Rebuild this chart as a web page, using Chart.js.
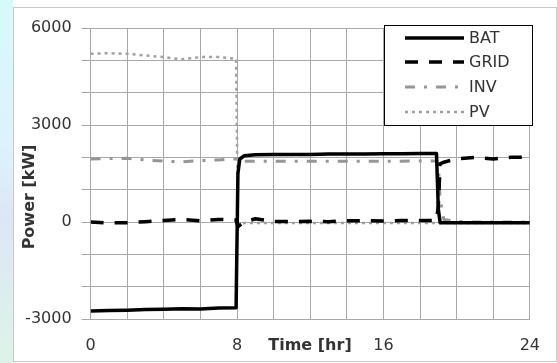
<!DOCTYPE html>
<html><head><meta charset="utf-8">
<script src="https://cdn.jsdelivr.net/npm/chart.js@4"></script>
<style>
html,body{margin:0;padding:0;width:557px;height:363px;overflow:hidden;background:#fff;}
#bg{position:absolute;left:0;top:0;width:13px;height:363px;background:linear-gradient(to bottom,#d6fafa 0%,#dcf3fb 40%,#dde6f6 60%,#dcf4e8 100%);}
#wrap{position:absolute;left:0;top:0;width:557px;height:363px;}
</style></head><body>
<div id="bg"></div>
<div id="wrap"><canvas id="c" width="557" height="363"></canvas></div>
<script>
const hours = [0,1,2,3,4,5,6,7,7.95,8.05,8.15,8.4,9,10,11,12,13,14,15,16,17,18,18.9,19.0,19.1,19.3,20,21,22,23,24];
const batValues  = [-2750,-2740,-2730,-2710,-2700,-2680,-2690,-2660,-2650,1500,1950,2050,2080,2090,2090,2090,2100,2100,2100,2110,2110,2120,2120,400,-20,-20,-20,-20,-20,-20,-20];
const gridValues = [0,-30,-20,10,50,80,40,80,60,-150,-100,0,100,20,10,20,10,40,40,30,50,50,50,500,1800,1850,1950,2000,1950,2000,2000];
const invValues  = [1950,1960,1970,1920,1880,1860,1900,1920,1950,1950,1900,1880,1880,1880,1880,1880,1880,1880,1880,1880,1880,1890,1890,1800,700,80,20,0,0,0,0];
const pvValues   = [5200,5220,5200,5150,5100,5030,5100,5100,5050,-20,-30,-30,-30,-30,-30,-30,-30,-30,-30,-30,-30,-30,-30,-30,-30,-30,-30,-30,-30,-30,-30];
const seriesNames = ['BAT','GRID','INV','PV'];
const xTickLabels = [0,8,16,24];
const yTickLabels = [-3000,0,3000,6000];
const xTitle = 'Time [hr]';
const yTitle = 'Power [kW]';

const FONT = 'DejaVu Sans';
const TXT = '#333333';
const pts = v => hours.map((h,i)=>({x:h,y:v[i]}));

const styles = [
  {borderColor:'#000000', borderWidth:3.5, borderDash:[]},
  {borderColor:'#000000', borderWidth:3.5, borderDash:[13,11]},
  {borderColor:'#969696', borderWidth:3, borderDash:[10,9,3,9]},
  {borderColor:'#a0a0a0', borderWidth:2.5, borderDash:[3,4]}
];
const vals = [batValues,gridValues,invValues,pvValues];

const decor = {
  id:'decor',
  beforeDraw(chart){
    const c = chart.ctx;
    c.save();
    c.strokeStyle = '#c8c8c8'; c.lineWidth = 1;
    c.strokeRect(13.5,7.5,543,354);
    c.restore();
  },
  afterDraw(chart){
    const c = chart.ctx;
    const xs = chart.scales.x, ys = chart.scales.y;
    c.save();
    c.fillStyle = TXT;
    c.font = 'bold 16px "'+FONT+'"';
    c.textAlign = 'center'; c.textBaseline = 'middle';
    c.fillText(xTitle, 310, 346);
    c.translate(30, 197); c.rotate(-Math.PI/2);
    c.fillText(yTitle, 0, 0);
    c.restore();
    // legend
    c.save();
    const bx = 384.5, by = 25.5, bw = 148, bh = 100;
    c.fillStyle = '#fff'; c.fillRect(bx,by,bw,bh);
    c.strokeStyle = '#000'; c.lineWidth = 1; c.strokeRect(bx,by,bw,bh);
    const rows = [38,62,87,112];
    chart.data.datasets.forEach((ds,i)=>{
      c.beginPath();
      c.strokeStyle = ds.borderColor; c.lineWidth = ds.borderWidth;
      c.setLineDash(ds.borderDash||[]);
      c.moveTo(405, rows[i]); c.lineTo(464, rows[i]); c.stroke();
      c.setLineDash([]);
      c.fillStyle = TXT; c.font = '16px "'+FONT+'"';
      c.textAlign='left'; c.textBaseline='middle';
      c.fillText(ds.label, 469, rows[i]+1);
    });
    c.restore();
  }
};

new Chart(document.getElementById('c'), {
  type:'line',
  data:{datasets: seriesNames.map((n,i)=>Object.assign({label:n, data:pts(vals[i]), pointRadius:0, fill:false, tension:0, borderJoinStyle:'round', borderCapStyle:'butt'}, styles[i]))},
  options:{
    responsive:false, animation:false, devicePixelRatio:1,
    layout:{padding:{top:28,right:24,left:0,bottom:0}},
    plugins:{legend:{display:false}, tooltip:{enabled:false}},
    scales:{
      x:{type:'linear', min:0, max:24,
        afterFit(s){ s.height = 44; },
        grid:{color:'#a8a8a8', drawTicks:false},
        border:{color:'#a8a8a8'},
        ticks:{stepSize:2, padding:17, autoSkip:false, maxRotation:0, color:TXT, font:{family:FONT,size:16},
          callback:v => xTickLabels.includes(v) ? String(v) : ''}
      },
      y:{type:'linear', min:-3000, max:6000,
        afterFit(s){ s.width = 90.6; },
        grid:{color:'#a8a8a8', tickLength:9},
        border:{color:'#a8a8a8'},
        ticks:{stepSize:1000, padding:10, autoSkip:false, color:TXT, font:{family:FONT,size:16},
          callback:v => yTickLabels.includes(v) ? String(v) : ''}
      }
    }
  },
  plugins:[decor]
});
</script>
</body></html>
